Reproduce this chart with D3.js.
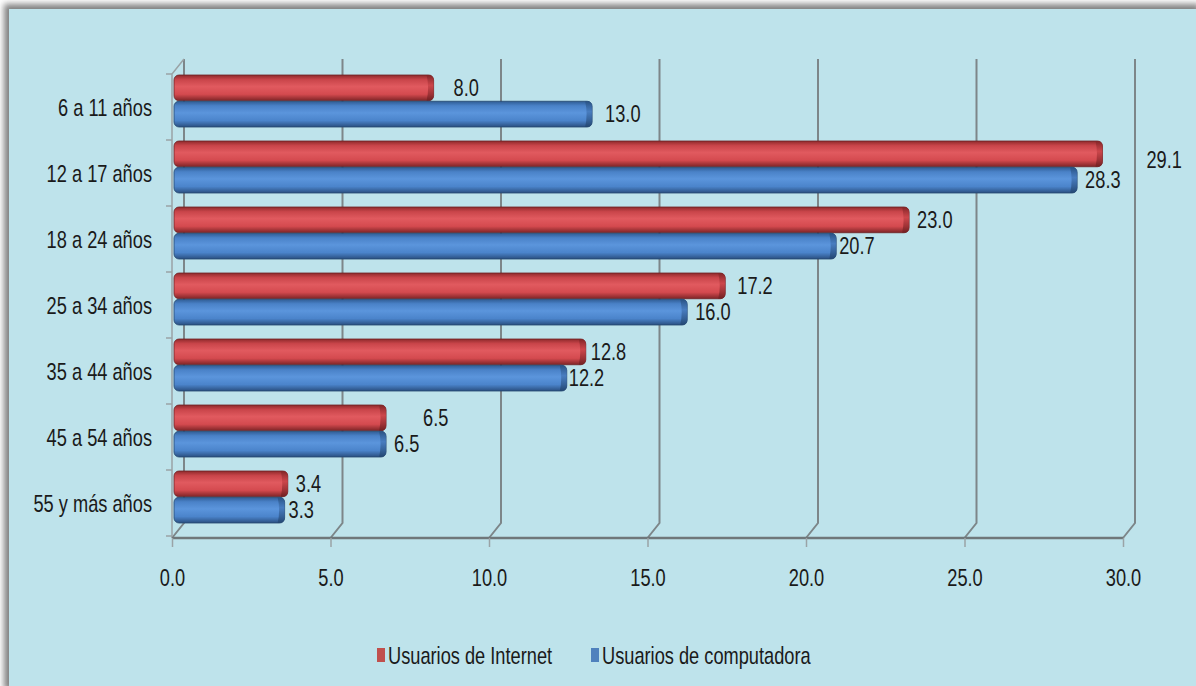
<!DOCTYPE html>
<html>
<head>
<meta charset="utf-8">
<script src="https://cdn.jsdelivr.net/npm/d3@7/dist/d3.min.js"></script>
<style>
  body { margin: 0; background: #fff; }
  text { font-family: "Liberation Sans Narrow", "Arial Narrow", "Liberation Sans", sans-serif; fill: #1a1a1a; }
</style>
</head>
<body>
<div id="chart"></div>
<script>
// age groups, top to bottom
var categories = ["6 a 11 años", "12 a 17 años", "18 a 24 años", "25 a 34 años",
                  "35 a 44 años", "45 a 54 años", "55 y más años"];
var series = ["Usuarios de Internet", "Usuarios de computadora"];
var internet = [8.0, 29.1, 23.0, 17.2, 12.8, 6.5, 3.4];
var computadora = [13.0, 28.3, 20.7, 16.0, 12.2, 6.5, 3.3];
var ticks = [0, 5, 10, 15, 20, 25, 30];

var W = 1196, H = 686;
var depth = { x: 12, y: -15 };   // fake 3d offset of the back wall
var floorY = 538;
var fs = 24, squeeze = 0.76;     // no narrow font installed, so squeeze by hand

var svg = d3.select('#chart').append('svg')
    .attr('width', W).attr('height', H);

// turn x/y into a transform so the glyphs can be squeezed horizontally
function narrow(sel) {
    sel.each(function() {
        var t = d3.select(this);
        var tx = +t.attr('x') || 0, ty = +t.attr('y') || 0;
        t.attr('x', 0).attr('y', 0)
         .attr('transform', 'translate(' + tx + ',' + ty + ') scale(' + squeeze + ',1)');
    });
}

var defs = svg.append('defs');
defs.append('filter').attr('id', 'blur')
    .attr('x', -0.05).attr('y', -0.05).attr('width', 1.1).attr('height', 1.1)
  .append('feGaussianBlur').attr('stdDeviation', 3);

function cylGrad(id, stops) {
    var g = defs.append('linearGradient').attr('id', id)
        .attr('x1', 0).attr('y1', 0).attr('x2', 0).attr('y2', 1);
    stops.forEach(function(s) {
        g.append('stop').attr('offset', s[0]).attr('stop-color', s[1]);
    });
}
cylGrad('g-red', [[0, '#8f2a2c'], [0.18, '#c9454a'], [0.45, '#e15a5f'], [0.75, '#d44a4f'], [1, '#7e2426']]);
cylGrad('g-blue', [[0, '#2f5c94'], [0.18, '#4a82c8'], [0.45, '#5b95dc'], [0.75, '#4b84cb'], [1, '#2a4f80']]);
cylGrad('g-redcap', [[0, '#7e2426'], [0.4, '#c94348'], [1, '#6e1f21']]);
cylGrad('g-bluecap', [[0, '#27507f'], [0.4, '#4579bb'], [1, '#22456f']]);

// frame with soft shadow
svg.append('rect').attr('x', 4).attr('y', 4).attr('width', W).attr('height', H)
    .attr('fill', '#808080').attr('filter', 'url(#blur)');
svg.append('rect').attr('x', 9).attr('y', 9).attr('width', W).attr('height', H)
    .attr('fill', '#bee3eb');

var x = d3.scaleLinear().domain([0, 30]).range([172, 1123]);
var y = d3.scaleBand().domain(categories).range([74, 536]);
var ySub = d3.scaleBand().domain(series).range([1, 53]).paddingInner(0.02);

var g = svg.append('g');

// back wall grid lines + floor edge
g.selectAll('path.grid')
    .data(ticks)
    .enter().append('path')
    .attr('class', 'grid')
    .attr('d', function(d) {
        var x0 = x(d);
        return 'M' + (x0 + depth.x) + ',' + (y.range()[0] + depth.y) +
               'L' + (x0 + depth.x) + ',' + (floorY + depth.y) +
               'L' + x0 + ',' + floorY;
    })
    .attr('fill', 'none')
    .attr('stroke', '#7d8689')
    .attr('stroke-width', 2);

// front left axis
g.append('path')
    .attr('d', 'M' + x(0) + ',' + floorY + 'L' + x(0) + ',' + y.range()[0] +
               'L' + (x(0) + depth.x) + ',' + (y.range()[0] + depth.y))
    .attr('fill', 'none').attr('stroke', '#9aa3a6').attr('stroke-width', 1.5);

g.selectAll('line.ctick')
    .data(categories.concat(['end']))
    .enter().append('line')
    .attr('class', 'ctick')
    .attr('x1', x(0) - 6).attr('x2', x(0))
    .attr('y1', function(d, i) { return y.range()[0] + i * y.step(); })
    .attr('y2', function(d, i) { return y.range()[0] + i * y.step(); })
    .attr('stroke', '#9aa3a6').attr('stroke-width', 1.5);

// floor front edge
g.append('line')
    .attr('x1', x(0)).attr('x2', x(30)).attr('y1', floorY).attr('y2', floorY)
    .attr('stroke', '#6f777a').attr('stroke-width', 2.5);

var xAxis = d3.axisBottom(x).tickValues(ticks).tickFormat(d3.format('.1f')).tickSize(9).tickPadding(22);
var ax = g.append('g').attr('transform', 'translate(0,' + floorY + ')').call(xAxis);
ax.select('.domain').remove();
ax.selectAll('line').attr('stroke', '#9aa3a6').attr('stroke-width', 1.5);
ax.selectAll('text').attr('font-size', fs).attr('fill', '#1a1a1a')
    .attr('font-family', '"Liberation Sans Narrow", "Arial Narrow", "Liberation Sans", sans-serif')
    .call(narrow);

// category labels
g.selectAll('text.cat')
    .data(categories)
    .enter().append('text')
    .attr('class', 'cat')
    .attr('x', 152)
    .attr('y', function(d) { return y(d) + y.bandwidth() / 2 + 9; })
    .attr('text-anchor', 'end')
    .attr('font-size', fs)
    .text(function(d) { return d; })
    .call(narrow);

// bars
var rows = [];
categories.forEach(function(c, i) {
    rows.push({ cat: c, s: series[0], v: internet[i], col: 'red' });
    rows.push({ cat: c, s: series[1], v: computadora[i], col: 'blue' });
});

var bars = g.selectAll('g.bar').data(rows).enter().append('g').attr('class', 'bar');
bars.append('rect')
    .attr('x', x(0) + 2)
    .attr('y', function(d) { return y(d.cat) + ySub(d.s); })
    .attr('width', function(d) { return x(d.v) + 8 - x(0) - 2; })
    .attr('height', ySub.bandwidth())
    .attr('rx', 5)
    .attr('fill', function(d) { return 'url(#g-' + d.col + ')'; })
    .attr('stroke', function(d) { return d.col == 'red' ? '#6e2224' : '#25466f'; })
    .attr('stroke-width', 0.8);
bars.append('path')
    .attr('d', function(d) {
        var x1 = x(d.v) + 8, y0 = y(d.cat) + ySub(d.s), h = ySub.bandwidth();
        return 'M' + (x1 - 7) + ',' + y0 + 'L' + (x1 - 5) + ',' + y0 +
               'Q' + x1 + ',' + y0 + ' ' + x1 + ',' + (y0 + 5) +
               'L' + x1 + ',' + (y0 + h - 5) +
               'Q' + x1 + ',' + (y0 + h) + ' ' + (x1 - 5) + ',' + (y0 + h) +
               'L' + (x1 - 7) + ',' + (y0 + h) +
               'Q' + (x1 - 4) + ',' + (y0 + h / 2) + ' ' + (x1 - 7) + ',' + y0 + 'Z';
    })
    .attr('fill', function(d) { return 'url(#g-' + d.col + 'cap)'; })
    .attr('opacity', 0.85);

// value labels; a few of them sit further out in the original
var nudge = { '8|0': 12, '13|1': 5, '29.1|0': 36, '6.5|0': 29, '17.2|0': 4, '20.7|1': -5, '12.8|0': -3, '12.2|1': -6, '3.3|1': -4 };
g.selectAll('text.val')
    .data(rows)
    .enter().append('text')
    .attr('class', 'val')
    .attr('x', function(d) {
        var k = d.v + '|' + series.indexOf(d.s);
        return x(d.v) + 16 + (nudge[k] || 0);
    })
    .attr('y', function(d) {
        var extra = (d.v == 29.1) ? 6 : 0;
        return y(d.cat) + ySub(d.s) + ySub.bandwidth() / 2 + 8 + extra;
    })
    .attr('font-size', fs)
    .text(function(d) { return d3.format('.1f')(d.v); })
    .call(narrow);

// legend
var legX = [377, 591];
var leg = svg.selectAll('g.leg').data(series).enter().append('g').attr('class', 'leg')
    .attr('transform', function(d, i) { return 'translate(' + legX[i] + ',648)'; });
leg.append('rect').attr('width', 8).attr('height', 14)
    .attr('fill', function(d, i) { return i == 0 ? '#c0504d' : '#4f81bd'; });
leg.append('text').attr('x', 11).attr('y', 16).attr('font-size', fs)
    .text(function(d) { return d; })
    .call(narrow);
</script>
</body>
</html>
